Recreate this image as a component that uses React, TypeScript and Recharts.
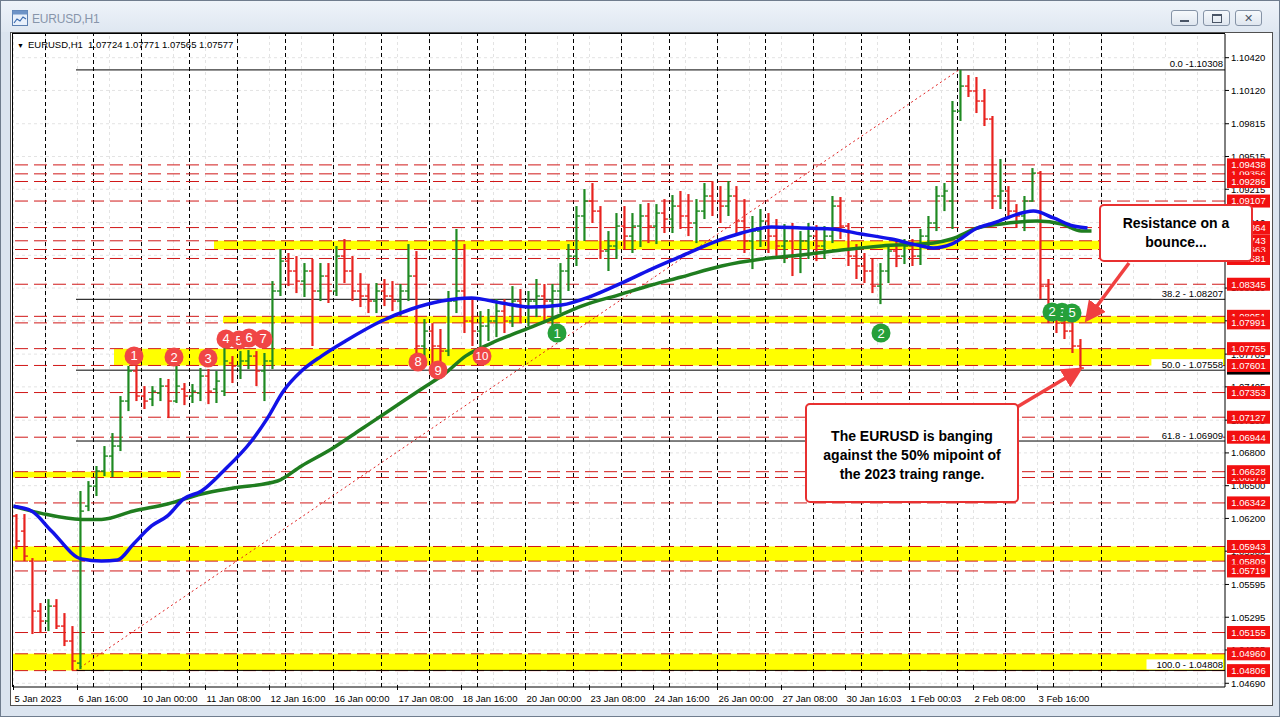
import React from "react";
import {
  ComposedChart,
  Bar,
  Line,
  XAxis,
  YAxis,
  ReferenceLine,
  ReferenceArea,
  ReferenceDot,
} from "recharts";

// ---------------- DATA ----------------
// 4-hour OHLC bars, hour index counted from 5 Jan 2023 08:00 (trading hours only)
const BAR_HOURS = 4;
const barOpen = [
  1.06222, 1.06084, 1.05809, 1.05351, 1.0526, 1.05397, 1.05214, 1.05077, 1.04875, 1.06313,
  1.06496, 1.06634, 1.06771, 1.06863, 1.07275, 1.0755, 1.07321, 1.07293, 1.07348, 1.07412,
  1.07275, 1.07385, 1.07321, 1.07348, 1.07504, 1.07385, 1.07366, 1.07623, 1.07596, 1.07642,
  1.07687, 1.0755, 1.07642, 1.08283, 1.08557, 1.08466, 1.08374, 1.08466, 1.08283, 1.0842,
  1.08283, 1.08603, 1.08466, 1.08283, 1.08237, 1.08191, 1.08283, 1.08237, 1.08191, 1.08283,
  1.0842, 1.07779, 1.07916, 1.07779, 1.07733, 1.08191, 1.08283, 1.08008, 1.07916, 1.07962,
  1.08008, 1.08099, 1.08008, 1.08191, 1.08145, 1.08191, 1.08237, 1.08191, 1.08283, 1.08466,
  1.08603, 1.0897, 1.09107, 1.09015, 1.08649, 1.08695, 1.08878, 1.08786, 1.08878, 1.0897,
  1.08878, 1.08997, 1.08942, 1.09061, 1.0897, 1.08906, 1.09015, 1.09153, 1.09107, 1.09061,
  1.09153, 1.08924, 1.08741, 1.08832, 1.08924, 1.08786, 1.08695, 1.08741, 1.08603, 1.08741,
  1.08786, 1.08695, 1.08786, 1.09061, 1.08878, 1.08603, 1.08512, 1.08466, 1.08328, 1.08466,
  1.08649, 1.08603, 1.08695, 1.08603, 1.08786, 1.08906, 1.09153, 1.09107, 1.09931, 1.1016,
  1.10115, 1.10023, 1.09858, 1.09153, 1.09199, 1.09015, 1.0897, 1.09107, 1.09363, 1.08328,
  1.08099, 1.07989, 1.07916, 1.07779,
];
const barHigh = [
  1.0624, 1.0624, 1.05837, 1.05425, 1.05461, 1.05461, 1.05333, 1.05214, 1.06451, 1.06542,
  1.0668, 1.06863, 1.06982, 1.07321, 1.07596, 1.07605, 1.07412, 1.07412, 1.07486, 1.07477,
  1.07596, 1.0744, 1.07431, 1.07578, 1.07568, 1.0755, 1.0777, 1.07687, 1.07733, 1.07742,
  1.07733, 1.07715, 1.08374, 1.08667, 1.08631, 1.08603, 1.08539, 1.08576, 1.08539, 1.08539,
  1.08695, 1.08759, 1.08603, 1.08447, 1.08347, 1.08356, 1.08393, 1.08374, 1.08347, 1.08713,
  1.08649, 1.08026, 1.07989, 1.07935, 1.08283, 1.08851, 1.08713, 1.08209, 1.08099, 1.08118,
  1.08209, 1.08209, 1.08328, 1.08301, 1.08283, 1.08393, 1.08347, 1.08347, 1.08539, 1.08713,
  1.09061, 1.09217, 1.09272, 1.09061, 1.08832, 1.08997, 1.09061, 1.08997, 1.09079, 1.09089,
  1.09079, 1.09125, 1.09162, 1.09199, 1.09171, 1.09125, 1.09272, 1.0929, 1.09244, 1.0929,
  1.09244, 1.09125, 1.0897, 1.09034, 1.08997, 1.08942, 1.08896, 1.08906, 1.08832, 1.08906,
  1.08887, 1.08878, 1.09153, 1.09144, 1.08906, 1.08713, 1.08631, 1.08576, 1.08539, 1.08713,
  1.08759, 1.08759, 1.08759, 1.08851, 1.0897, 1.09244, 1.09272, 1.10023, 1.10308, 1.10261,
  1.10243, 1.10133, 1.09886, 1.09492, 1.09244, 1.09079, 1.09153, 1.09409, 1.09382, 1.08393,
  1.08163, 1.08118, 1.08026, 1.07843,
];
const barLow = [
  1.05919, 1.05809, 1.05141, 1.0515, 1.05168, 1.05187, 1.05031, 1.04808, 1.0482, 1.06267,
  1.06405, 1.06588, 1.06579, 1.06817, 1.07183, 1.07275, 1.07202, 1.07229, 1.07275, 1.07119,
  1.07257, 1.07238, 1.07257, 1.07275, 1.07247, 1.07257, 1.07321, 1.0744, 1.07477, 1.07568,
  1.07412, 1.07275, 1.07568, 1.08237, 1.08328, 1.08264, 1.08228, 1.07779, 1.08191, 1.08173,
  1.08237, 1.08356, 1.08191, 1.08136, 1.08081, 1.08081, 1.08145, 1.08099, 1.08053, 1.08191,
  1.07623, 1.07596, 1.0755, 1.0753, 1.07687, 1.08081, 1.07898, 1.07779, 1.0777, 1.07825,
  1.07861, 1.07898, 1.07953, 1.07989, 1.07962, 1.08044, 1.08008, 1.07962, 1.08081, 1.08283,
  1.08512, 1.08741, 1.08906, 1.08576, 1.08466, 1.08576, 1.08667, 1.08631, 1.08686, 1.08722,
  1.08713, 1.08814, 1.08814, 1.08851, 1.08786, 1.08722, 1.08942, 1.0897, 1.08906, 1.0897,
  1.08814, 1.08631, 1.08484, 1.08686, 1.08631, 1.08576, 1.08539, 1.0842, 1.08447, 1.08576,
  1.08557, 1.08576, 1.08722, 1.08759, 1.08512, 1.08393, 1.08356, 1.08264, 1.08163, 1.08356,
  1.08502, 1.0853, 1.08512, 1.08521, 1.08667, 1.08832, 1.09015, 1.08851, 1.0984, 1.1006,
  1.09913, 1.09794, 1.09034, 1.09034, 1.08942, 1.0886, 1.08832, 1.091, 1.08209, 1.07989,
  1.07898, 1.07843, 1.07715, 1.07565,
];
const barClose = [
  1.05993, 1.05855, 1.05351, 1.0526, 1.05397, 1.05214, 1.05077, 1.04894, 1.06267, 1.06496,
  1.06634, 1.06771, 1.06863, 1.07275, 1.0755, 1.07321, 1.07275, 1.07366, 1.07412, 1.07275,
  1.07412, 1.07321, 1.07366, 1.07504, 1.07366, 1.07458, 1.07642, 1.07596, 1.07642, 1.07687,
  1.0755, 1.07642, 1.08283, 1.08557, 1.08466, 1.08374, 1.08466, 1.08283, 1.0842, 1.08283,
  1.08603, 1.08466, 1.08283, 1.08237, 1.08191, 1.08283, 1.08237, 1.08191, 1.08283, 1.0842,
  1.07779, 1.07916, 1.07779, 1.07733, 1.08191, 1.08283, 1.08008, 1.07916, 1.07962, 1.08008,
  1.08099, 1.08008, 1.08191, 1.08145, 1.08191, 1.08237, 1.08191, 1.08283, 1.08466, 1.08603,
  1.0897, 1.09107, 1.09015, 1.08649, 1.08695, 1.08878, 1.08786, 1.08878, 1.0897, 1.08878,
  1.08997, 1.08942, 1.09061, 1.0897, 1.08906, 1.09015, 1.09153, 1.09107, 1.09061, 1.09153,
  1.08924, 1.08741, 1.08832, 1.08924, 1.08786, 1.08695, 1.08741, 1.08603, 1.08741, 1.08786,
  1.08695, 1.08786, 1.09061, 1.08878, 1.08603, 1.08512, 1.08466, 1.08328, 1.08466, 1.08649,
  1.08603, 1.08695, 1.08603, 1.08786, 1.08906, 1.09153, 1.09199, 1.09931, 1.1016, 1.10115,
  1.10023, 1.09858, 1.09153, 1.09199, 1.09015, 1.0897, 1.09107, 1.09363, 1.08328, 1.08099,
  1.07989, 1.07916, 1.07779, 1.07577,
];

// moving averages (blue = fast, green = slow)
const blueMaHours = [0, 9, 19, 34, 44, 52, 60, 69, 77, 85, 94, 105, 119, 127, 135, 144, 154, 166, 184, 199, 214, 229, 244, 259, 274, 289, 304, 319, 334, 349, 364, 379, 394, 409, 424, 439, 454, 460, 469, 482, 490, 510, 520, 530, 537];
const blueMaValues = [1.06311, 1.06268, 1.06085, 1.05829, 1.05811, 1.0582, 1.05966, 1.06131, 1.06223, 1.06378, 1.06452, 1.06635, 1.06909, 1.07119, 1.07367, 1.0755, 1.07687, 1.07825, 1.08008, 1.08118, 1.08191, 1.08219, 1.08173, 1.08136, 1.08155, 1.08237, 1.08356, 1.08484, 1.08603, 1.08722, 1.08814, 1.08869, 1.0886, 1.08851, 1.08805, 1.08759, 1.08695, 1.08677, 1.08713, 1.0886, 1.08906, 1.09016, 1.08952, 1.08878, 1.0886];
const greenMaHours = [0, 14, 34, 44, 60, 77, 94, 110, 132, 144, 159, 174, 189, 204, 216, 226, 239, 254, 269, 284, 304, 319, 334, 354, 374, 394, 414, 434, 460, 469, 482, 494, 512, 524, 534, 539];
const greenMaValues = [1.06311, 1.06246, 1.06191, 1.06191, 1.06268, 1.06332, 1.06424, 1.06479, 1.06543, 1.06681, 1.06836, 1.07019, 1.07202, 1.07386, 1.07532, 1.07687, 1.07806, 1.07917, 1.08027, 1.08145, 1.08255, 1.08338, 1.08411, 1.08512, 1.08576, 1.08613, 1.08658, 1.08695, 1.08723, 1.08759, 1.0886, 1.08897, 1.08924, 1.08897, 1.08833, 1.08833];

// time axis
const xTickHours = [0, 32, 64, 96, 128, 160, 192, 224, 256, 288, 320, 352, 384, 416, 448, 480, 512];
const xTickLabels = [
  "5 Jan 2023", "6 Jan 16:00", "10 Jan 00:00", "11 Jan 08:00", "12 Jan 16:00", "16 Jan 00:00",
  "17 Jan 08:00", "18 Jan 16:00", "20 Jan 00:00", "23 Jan 08:00", "24 Jan 16:00", "26 Jan 00:00",
  "27 Jan 08:00", "30 Jan 16:03", "1 Feb 00:03", "2 Feb 08:00", "3 Feb 16:00",
];
const daySeparatorHours = [16, 40, 64, 88, 112, 136, 160, 184, 208, 232, 256, 280, 304, 328, 352, 376, 400, 424, 448, 472, 496, 520, 544];
const gridHours = [0, 16, 32, 48, 64, 80, 96, 112, 128, 144, 160, 176, 192, 208, 224, 240, 256, 272, 288, 304, 320, 336, 352, 368, 384, 400, 416, 432, 448, 464, 480, 496, 512, 528, 544, 560, 576, 592];

// price axis
const priceTicks = [1.0469, 1.04995, 1.05295, 1.05595, 1.059, 1.062, 1.065, 1.068, 1.071, 1.07405, 1.07705, 1.0801, 1.0831, 1.0861, 1.0891, 1.09215, 1.09515, 1.09815, 1.1012, 1.1042];
const currentPrice = 1.07577;
const headerText = "EURUSD,H1  1.07724 1.07771 1.07565 1.07577";

// horizontal support / resistance levels (drawing order)
const levelPrices = [1.09356, 1.09438, 1.09286, 1.09107, 1.08864, 1.08663, 1.08743, 1.08581, 1.08345, 1.08051, 1.07991, 1.07755, 1.07601, 1.07353, 1.07127, 1.06944, 1.06575, 1.06628, 1.06342, 1.05943, 1.05809, 1.05719, 1.05155, 1.0496, 1.04806];

// yellow zones
const zoneStartHour = [100.25, 104.75, 50.25, -0.25, -0.25, -0.25];
const zoneEndHour = [605.75, 605.75, 605.75, 83.75, 605.75, 605.75];
const zoneLow = [1.08663, 1.07991, 1.07601, 1.06575, 1.05809, 1.04806];
const zoneHigh = [1.08743, 1.08051, 1.07755, 1.06628, 1.05943, 1.0496];

// fibonacci retracement
const fibLevels = ["0.0", "38.2", "50.0", "61.8", "100.0"];
const fibPrices = [1.10308, 1.08207, 1.07558, 1.06909, 1.04808];
const fibLabels = ["0.0 -1.10308", "38.2 - 1.08207", "50.0 - 1.07558", "61.8 - 1.06909", "100.0 - 1.04808"];
const fibStartHour = 31.25;
const fibPeakHour = 472.75;

// numbered markers
const redMarkHours = [60.25, 80.25, 97.25, 106.25, 112.75, 117.75, 124.75, 202.25, 212.25, 234.25];
const redMarkPrices = [1.07688, 1.07678, 1.07669, 1.07844, 1.07834, 1.07853, 1.07844, 1.07633, 1.07559, 1.07688];
const redMarkLabels = ["1", "2", "3", "4", "5", "6", "7", "8", "9", "10"];
const greenMarkHours = [271.75, 433.75, 524.25, 529.25, 519.25];
const greenMarkPrices = [1.07898, 1.07898, 1.08088, 1.08082, 1.08091];
const greenMarkLabels = ["1", "2", "3", "5", "2"];

// ---------------- STYLE ----------------
const FONT = '"Liberation Sans", Arial, sans-serif';
const X_MIN = -0.25;
const X_MAX = 605.75;
const Y_MIN = 1.04656;
const Y_MAX = 1.10637;
const UP = "#1f8a22";
const DOWN = "#e8231f";
const LEVEL_RED = "#d01818";
const BOX_RED = "#f21010";

const candles = barOpen.map((o, i) => ({
  t: i * BAR_HOURS + 1.5,
  open: o,
  high: barHigh[i],
  low: barLow[i],
  close: barClose[i],
  range: [barLow[i], barHigh[i]],
}));
const blueData = blueMaHours.map((t, i) => ({ t, v: blueMaValues[i] }));
const greenData = greenMaHours.map((t, i) => ({ t, v: greenMaValues[i] }));
const levelSet = new Set(levelPrices);
const allYTicks = [...priceTicks, currentPrice, ...levelPrices];

function OhlcShape(props: any) {
  const { x, y, width, height } = props;
  const d = props.payload || props;
  if (d == null || d.high == null) return null;
  const top = Math.min(y, y + height);
  const h = Math.abs(height);
  const cx = x + width / 2;
  const span = d.high - d.low || 1;
  const yO = top + ((d.high - d.open) / span) * h;
  const yC = top + ((d.high - d.close) / span) * h;
  const col = d.close >= d.open ? UP : DOWN;
  return (
    <g>
      <line x1={cx} x2={cx} y1={top} y2={top + Math.max(h, 1)} stroke={col} strokeWidth={2.2} />
      <line x1={cx - 3.5} x2={cx} y1={yO} y2={yO} stroke={col} strokeWidth={1.4} />
      <line x1={cx} x2={cx + 3.5} y1={yC} y2={yC} stroke={col} strokeWidth={1.4} />
    </g>
  );
}

function XTick(props: any) {
  const { x, y, payload } = props;
  const idx = xTickHours.indexOf(payload.value);
  return (
    <g>
      <line x1={x} x2={x} y1={y - 2} y2={y + 3} stroke="#000" />
      <text x={x + 1} y={y + 15} fontSize={9.5} fontFamily={FONT} fill="#000" textAnchor="start">
        {xTickLabels[idx]}
      </text>
    </g>
  );
}

function YTick(props: any) {
  const { x, y, payload } = props;
  const v = payload.value;
  if (levelSet.has(v)) {
    return (
      <g>
        <rect x={x + 2} y={y - 6.5} width={43} height={13} fill={BOX_RED} />
        <text x={x + 23.5} y={y + 3.4} textAnchor="middle" fontSize={9.5} fontFamily={FONT} fill="#fff">
          {v.toFixed(5)}
        </text>
      </g>
    );
  }
  if (v === currentPrice) {
    return (
      <g>
        <rect x={x + 2} y={y - 6.5} width={43} height={13} fill="#000" />
        <text x={x + 23.5} y={y + 3.4} textAnchor="middle" fontSize={9.5} fontFamily={FONT} fill="#fff">
          {v.toFixed(5)}
        </text>
      </g>
    );
  }
  return (
    <g>
      <line x1={x} x2={x + 4} y1={y} y2={y} stroke="#000" />
      <text x={x + 6} y={y + 3.4} textAnchor="start" fontSize={9.5} fontFamily={FONT} fill="#000">
        {v.toFixed(5)}
      </text>
    </g>
  );
}

const markShape = (fill: string, label: string) => (p: any) => (
  <g>
    <circle cx={p.cx} cy={p.cy} r={9.5} fill={fill} />
    <text x={p.cx} y={p.cy + 4.5} textAnchor="middle" fontSize={label.length > 1 ? 11.5 : 13} fontFamily={FONT} fill="#fff">
      {label}
    </text>
  </g>
);

const fibLabelShape = (label: string) => (p: any) => {
  const w = label.length * 4.9 + 3;
  return (
    <g>
      <rect x={p.cx - w} y={p.cy - 11} width={w} height={10} fill="#fff" />
      <text x={p.cx} y={p.cy - 2.5} textAnchor="end" fontSize={9.5} fontFamily={FONT} fill="#000">
        {label}
      </text>
    </g>
  );
};

function WinButton({ left, children }: { left: number; children: React.ReactNode }) {
  return (
    <div
      style={{
        position: "absolute",
        left,
        top: 9,
        width: 27,
        height: 16,
        border: "1px solid #8593a6",
        borderRadius: 3,
        background: "linear-gradient(#f6f9fc, #dfe6ef)",
        display: "flex",
        alignItems: "center",
        justifyContent: "center",
        boxSizing: "border-box",
      }}
    >
      {children}
    </div>
  );
}

export default function App() {
  return (
    <div
      style={{
        position: "absolute",
        left: 0,
        top: 0,
        width: 1280,
        height: 717,
        background: "#dbe4ef",
        fontFamily: FONT,
        overflow: "hidden",
        boxSizing: "border-box",
        border: "1px solid #6f7c8d",
      }}
    >
      {/* title bar */}
      <div style={{ position: "absolute", left: 0, top: 0, width: 1280, height: 31, background: "linear-gradient(#eef3f9, #dfe7f1)" }} />
      <svg style={{ position: "absolute", left: 11, top: 9 }} width={16} height={16}>
        <rect x={0.5} y={0.5} width={15} height={15} fill="#e8f0fb" stroke="#5b7fb0" />
        <rect x={0.5} y={0.5} width={15} height={4} fill="#6d93c7" />
        <polyline points="2,13 5,9 8,11 11,7 14,9" fill="none" stroke="#3a6bb0" strokeWidth={1.2} />
      </svg>
      <div style={{ position: "absolute", left: 31, top: 11, fontSize: 12, color: "#8795aa", letterSpacing: -0.2 }}>EURUSD,H1</div>
      <WinButton left={1170}>
        <div style={{ width: 9, height: 2, background: "#4a5566", marginTop: 6 }} />
      </WinButton>
      <WinButton left={1202}>
        <div style={{ width: 8, height: 6, border: "1px solid #4a5566", borderTopWidth: 2 }} />
      </WinButton>
      <WinButton left={1234}>
        <div style={{ fontSize: 11, color: "#4a5566", lineHeight: "11px" }}>✕</div>
      </WinButton>

      {/* chart white area */}
      <div style={{ position: "absolute", left: 9, top: 31, width: 1263, height: 674, background: "#fff", border: "1px solid #505050", boxSizing: "border-box" }} />

      <div style={{ position: "absolute", left: 10, top: 32 }}>
        <ComposedChart width={1262} height={672} data={candles} margin={{ top: 1, right: 0, bottom: 0, left: 2 }}>
          {/* faint grid */}
          {priceTicks.map((p) => (
            <ReferenceLine key={"gy" + p} y={p} stroke="#e3e3e3" strokeDasharray="3 3" zIndex={-100} />
          ))}
          {gridHours.map((h) => (
            <ReferenceLine key={"gx" + h} x={h} stroke="#e3e3e3" strokeDasharray="3 3" zIndex={-100} />
          ))}
          {/* yellow zones */}
          {zoneLow.map((lo, i) => (
            <ReferenceArea
              key={"z" + i}
              x1={zoneStartHour[i]}
              x2={zoneEndHour[i]}
              y1={lo}
              y2={zoneHigh[i]}
              fill="#ffff00"
              fillOpacity={1}
              stroke="none"
              ifOverflow="hidden"
            />
          ))}
          {/* day separators */}
          {daySeparatorHours.map((h) => (
            <ReferenceLine key={"d" + h} x={h} stroke="#000" strokeDasharray="4 3" zIndex={150} />
          ))}
          {/* support / resistance levels */}
          {levelPrices.map((p) => (
            <ReferenceLine key={"l" + p} y={p} stroke={LEVEL_RED} strokeDasharray="13 6" zIndex={150} />
          ))}
          {/* fibonacci */}
          {fibPrices.map((p, i) => (
            <ReferenceLine
              key={"f" + fibLevels[i]}
              segment={[
                { x: fibStartHour, y: p },
                { x: X_MAX, y: p },
              ]}
              stroke="#000"
              strokeWidth={1}
              zIndex={150}
            />
          ))}
          <ReferenceLine
            segment={[
              { x: fibStartHour, y: fibPrices[4] },
              { x: fibPeakHour, y: fibPrices[0] },
            ]}
            stroke="#e02020"
            strokeDasharray="2 3"
            zIndex={150}
          />

          <XAxis
            type="number"
            dataKey="t"
            domain={[X_MIN, X_MAX]}
            allowDataOverflow
            ticks={xTickHours}
            interval={0}
            tick={<XTick />}
            tickLine={false}
            tickSize={0}
            tickMargin={0}
            axisLine={{ stroke: "#000" }}
            height={18}
          />
          <YAxis
            orientation="right"
            type="number"
            domain={[Y_MIN, Y_MAX]}
            allowDataOverflow
            ticks={allYTicks}
            interval={0}
            tick={<YTick />}
            tickLine={false}
            tickSize={0}
            tickMargin={0}
            axisLine={{ stroke: "#000" }}
            width={48}
          />

          <Bar dataKey="range" barSize={6} shape={(p: any) => <OhlcShape {...p} />} isAnimationActive={false} />
          <Line data={greenData} dataKey="v" type="monotone" stroke="#1f7d1f" strokeWidth={3.5} dot={false} isAnimationActive={false} />
          <Line data={blueData} dataKey="v" type="monotone" stroke="#1212e8" strokeWidth={3.5} dot={false} isAnimationActive={false} />

          {fibPrices.map((p, i) => (
            <ReferenceDot key={"fl" + i} x={604.75} y={p} r={1} shape={fibLabelShape(fibLabels[i])} />
          ))}
          {redMarkHours.map((h, i) => (
            <ReferenceDot key={"rm" + i} x={h} y={redMarkPrices[i]} r={9} shape={markShape("#f04646", redMarkLabels[i])} />
          ))}
          {greenMarkHours.map((h, i) => (
            <ReferenceDot key={"gm" + i} x={h} y={greenMarkPrices[i]} r={9} shape={markShape("#26a03a", greenMarkLabels[i])} />
          ))}
        </ComposedChart>
      </div>

      {/* plot frame left/top */}
      <div style={{ position: "absolute", left: 11, top: 32, width: 1213, height: 654, borderLeft: "1px solid #000", borderTop: "1px solid #000", boxSizing: "border-box", pointerEvents: "none" }} />

      {/* header */}
      <div style={{ position: "absolute", left: 16, top: 38, fontSize: 9.5, color: "#000", whiteSpace: "pre" }}>
        <span style={{ fontSize: 7, marginRight: 4 }}>▼</span>
        {headerText}
      </div>

      {/* annotation arrows */}
      <svg style={{ position: "absolute", left: 0, top: 0, pointerEvents: "none" }} width={1280} height={717}>
        <defs>
          <marker id="ah" markerWidth="6" markerHeight="6" refX="3" refY="3" orient="auto" markerUnits="strokeWidth">
            <path d="M0,0 L6,3 L0,6 Z" fill="#f04040" />
          </marker>
        </defs>
        <line x1={1128} y1={262} x2={1090} y2={313} stroke="#f04040" strokeWidth={3.5} markerEnd="url(#ah)" />
        <line x1={1016} y1={406} x2={1073} y2={372} stroke="#f04040" strokeWidth={3.5} markerEnd="url(#ah)" />
      </svg>

      {/* annotation boxes */}
      <div
        style={{
          position: "absolute",
          left: 1098,
          top: 203,
          width: 154,
          height: 58,
          border: "2px solid #e83030",
          borderRadius: 5,
          background: "#fff",
          boxSizing: "border-box",
          textAlign: "center",
          fontWeight: "bold",
          fontSize: 14,
          lineHeight: "19px",
          paddingTop: 8,
          color: "#000",
        }}
      >
        Resistance on a<br />bounce...
      </div>
      <div
        style={{
          position: "absolute",
          left: 804,
          top: 402,
          width: 214,
          height: 100,
          border: "2px solid #e83030",
          borderRadius: 5,
          background: "#fff",
          boxSizing: "border-box",
          textAlign: "center",
          fontWeight: "bold",
          fontSize: 14,
          lineHeight: "19px",
          paddingTop: 22,
          color: "#000",
        }}
      >
        The EURUSD is banging
        <br />
        against the 50% mipoint of
        <br />
        the 2023 traing range.
      </div>
    </div>
  );
}
